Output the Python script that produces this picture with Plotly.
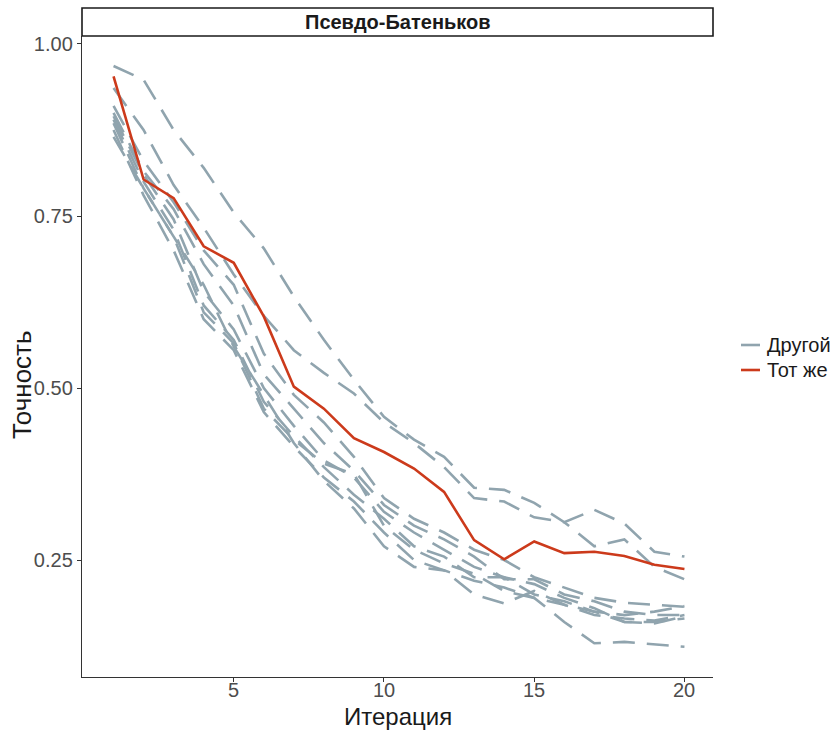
import plotly.graph_objects as go

iterations = list(range(1, 21))

# "Тот же" series
same_acc = [0.953, 0.803, 0.776, 0.706, 0.682, 0.604, 0.502, 0.470, 0.427, 0.407,
            0.383, 0.349, 0.279, 0.251, 0.277, 0.260, 0.262, 0.256, 0.243, 0.237]

# "Другой" series (one run per list)
other_runs = [
    [0.968, 0.948, 0.875, 0.820, 0.755, 0.703, 0.633, 0.570, 0.512, 0.458,
     0.425, 0.400, 0.355, 0.352, 0.333, 0.305, 0.270, 0.280, 0.240, 0.222],
    [0.936, 0.875, 0.795, 0.733, 0.665, 0.605, 0.555, 0.522, 0.492, 0.450,
     0.420, 0.385, 0.340, 0.335, 0.312, 0.305, 0.323, 0.303, 0.262, 0.255],
    [0.910, 0.830, 0.770, 0.700, 0.650, 0.550, 0.490, 0.450, 0.400, 0.340,
     0.310, 0.290, 0.265, 0.250, 0.225, 0.210, 0.195, 0.188, 0.185, 0.182],
    [0.900, 0.815, 0.760, 0.680, 0.620, 0.520, 0.470, 0.420, 0.380, 0.330,
     0.300, 0.280, 0.255, 0.222, 0.222, 0.200, 0.190, 0.175, 0.170, 0.170],
    [0.895, 0.810, 0.745, 0.640, 0.585, 0.500, 0.445, 0.395, 0.370, 0.320,
     0.290, 0.265, 0.240, 0.225, 0.215, 0.195, 0.180, 0.160, 0.158, 0.168],
    [0.890, 0.800, 0.730, 0.620, 0.570, 0.480, 0.430, 0.385, 0.345, 0.310,
     0.270, 0.255, 0.225, 0.225, 0.200, 0.190, 0.175, 0.170, 0.175, 0.183],
    [0.885, 0.790, 0.720, 0.610, 0.565, 0.470, 0.425, 0.390, 0.375, 0.300,
     0.265, 0.245, 0.230, 0.205, 0.195, 0.185, 0.170, 0.165, 0.162, 0.170],
    [0.875, 0.780, 0.700, 0.600, 0.555, 0.465, 0.415, 0.370, 0.335, 0.290,
     0.250, 0.235, 0.200, 0.187, 0.205, 0.185, 0.175, 0.160, 0.160, 0.165],
    [0.865, 0.790, 0.720, 0.650, 0.560, 0.490, 0.420, 0.365, 0.325, 0.270,
     0.240, 0.235, 0.220, 0.210, 0.195, 0.160, 0.129, 0.131, 0.128, 0.124],
]

x_ticks = [5, 10, 15, 20]
x_tick_labels = ["5", "10", "15", "20"]
y_ticks = [0.25, 0.50, 0.75, 1.00]
y_tick_labels = ["0.25", "0.50", "0.75", "1.00"]

legend_labels = ["Другой", "Тот же"]

GREY = "#90A4AE"
RED = "#CC3A1B"
INK = "#1A1A1A"
AXIS = "#333333"
TICK_INK = "#4D4D4D"
FONT = "Liberation Sans, Arial, sans-serif"

fig = go.Figure()

for run in other_runs:
    fig.add_trace(go.Scatter(
        x=iterations, y=run, mode="lines",
        line=dict(color=GREY, width=2.6, dash="22px,12px"),
        name=legend_labels[0], showlegend=False,
    ))

fig.add_trace(go.Scatter(
    x=iterations, y=same_acc, mode="lines",
    line=dict(color=RED, width=2.6),
    name=legend_labels[1], showlegend=False,
))

# panel geometry in pixels
W, H = 832, 731
ML, MR, MT, MB = 82, 119, 36, 54
PW, PH = W - ML - MR, H - MT - MB


def px_x(px):
    return (px - ML) / PW


def px_y(py):
    return (H - MB - py) / PH


strip_h = 28 / PH

shapes = [dict(
    type="rect", xref="paper", yref="paper",
    x0=0, x1=1, y0=1, y1=1 + strip_h,
    line=dict(color=INK, width=1.6), fillcolor="white",
    layer="above",
)]
annotations = [
    dict(
        xref="paper", yref="paper", x=0.5, y=1 + strip_h / 2,
        text="<b>Псевдо-Батеньков</b>", showarrow=False,
        font=dict(size=20, color=INK, family=FONT),
        xanchor="center", yanchor="middle",
    ),
    # axis titles
    dict(
        xref="paper", yref="paper", x=0.5, y=px_y(716),
        text="Итерация", showarrow=False,
        font=dict(size=24, color=INK, family=FONT),
        xanchor="center", yanchor="middle",
        borderpad=0, borderwidth=0,
    ),
    dict(
        xref="paper", yref="paper", x=px_x(22), y=px_y(385),
        text="Точность", showarrow=False, textangle=-90,
        font=dict(size=26, color=INK, family=FONT),
        xanchor="center", yanchor="middle",
    ),
]

# x tick labels, placed on the x scale just under the tick marks
for tv, tl in zip(x_ticks, x_tick_labels):
    annotations.append(dict(
        xref="x", yref="paper", x=tv, y=px_y(690),
        text=tl, showarrow=False, xanchor="center", yanchor="middle",
        font=dict(size=20, color=TICK_INK, family=FONT),
        borderpad=0, borderwidth=0,
    ))

# legend keys drawn at the right of the panel
for label, color, key_y in zip(legend_labels, [GREY, RED], [345, 370]):
    shapes.append(dict(
        type="line", xref="paper", yref="paper",
        x0=px_x(741), x1=px_x(760), y0=px_y(key_y), y1=px_y(key_y),
        line=dict(color=color, width=2.6),
    ))
    annotations.append(dict(
        xref="paper", yref="paper", x=px_x(765), y=px_y(key_y),
        text=label, showarrow=False, xanchor="left", yanchor="middle",
        font=dict(size=20, color=INK, family=FONT),
    ))

fig.update_layout(
    width=W, height=H,
    margin=dict(l=ML, r=MR, t=MT, b=MB, autoexpand=False),
    paper_bgcolor="white", plot_bgcolor="white",
    font=dict(family=FONT, color=INK),
    showlegend=False,
    shapes=shapes,
    annotations=annotations,
)

fig.update_xaxes(
    range=[-0.05, 20.95], tickvals=x_ticks,
    showticklabels=False,
    showgrid=False, zeroline=False,
    showline=True, linecolor=AXIS, linewidth=1.4,
    ticks="outside", ticklen=4, tickwidth=1.2, tickcolor=AXIS,
    automargin=False,
)
fig.update_yaxes(
    range=[0.080, 1.0116], tickvals=y_ticks, ticktext=y_tick_labels,
    showgrid=False, zeroline=False,
    showline=True, linecolor=AXIS, linewidth=1.4,
    ticks="outside", ticklen=4, tickwidth=1.2, tickcolor=AXIS,
    tickfont=dict(size=20, color=TICK_INK, family=FONT),
    automargin=False,
)

fig.write_html("out.html")
